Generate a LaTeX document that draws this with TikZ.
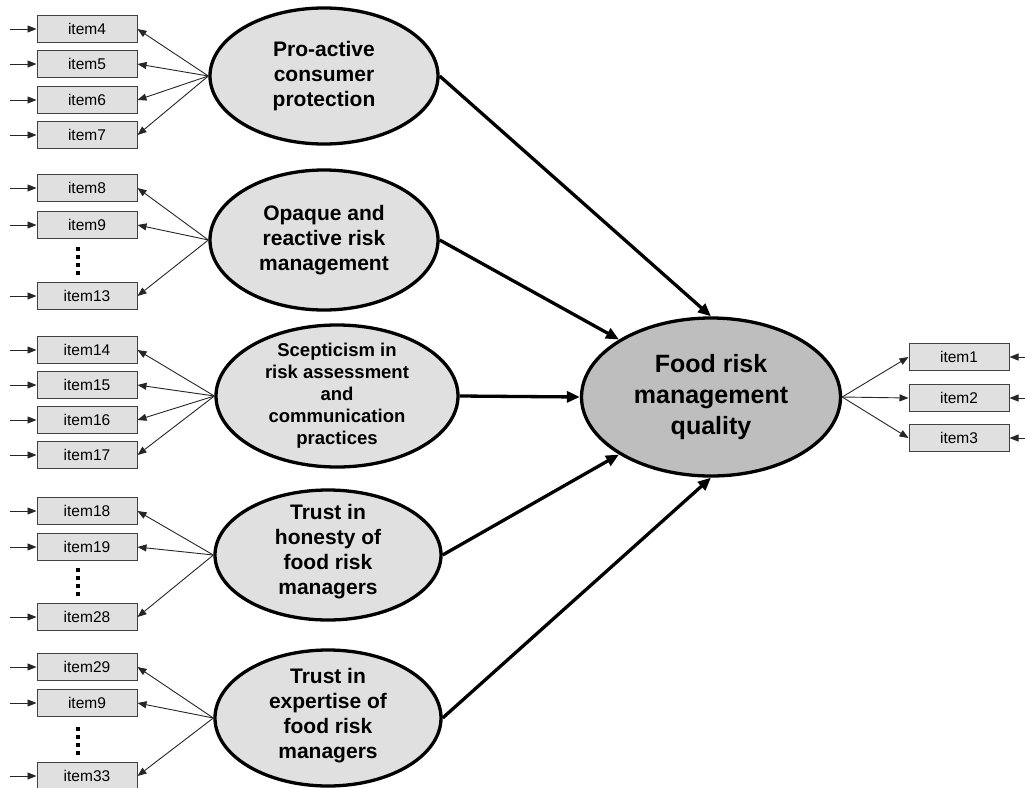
\documentclass[tikz,border=0pt]{standalone}
\usepackage{fontspec}
\setmainfont{Liberation Sans}
\usetikzlibrary{arrows.meta,shapes.geometric}
\definecolor{lightfill}{HTML}{E0E0E0}
\definecolor{darkfill}{HTML}{BEBEBE}
\definecolor{boxline}{HTML}{404040}
\tikzset{
  itembox/.style={draw=boxline, line width=1pt, fill=lightfill, minimum width=100pt, minimum height=27pt, inner sep=0pt, font=\fontsize{15.5}{17}\selectfont},
  latent/.style={ellipse, draw=black, line width=3.3pt, fill=lightfill, inner sep=0pt},
  lattext/.style={align=center, font=\fontsize{21}{25}\selectfont\bfseries, inner sep=0pt},
  thinarrow/.style={draw=black!85, line width=0.9pt, -{Triangle[length=9pt,width=7pt]}},
  thickarrow/.style={draw=black, line width=3.3pt, -{Triangle[length=13pt,width=11pt]}},
  vdots/.style={line width=3.5pt, dash pattern=on 3.5pt off 4.5pt},
}
\begin{document}
\begin{tikzpicture}[x=1pt,y=-1pt]
\useasboundingbox (0,0) rectangle (1025,787);

% latent ellipses
\node[latent, minimum width=228pt, minimum height=136pt] (e1) at (324,76) {};
\node[lattext] (t1) at (e1) {Pro-active\\consumer\\protection};
\node[latent, minimum width=228pt, minimum height=140pt] (e2) at (324,240) {};
\node[lattext] (t2) at (e2) {Opaque and\\reactive risk\\management};
\node[latent, minimum width=242pt, minimum height=142pt] (e3) at (337,396) {};
\node[lattext, font=\fontsize{18.5}{22}\selectfont\bfseries] (t3) at (e3) {Scepticism in\\risk assessment\\and\\communication\\practices};
\node[latent, minimum width=226pt, minimum height=130pt] (e4) at (328,555) {};
\node[lattext] (t4) at ([yshift=3pt]e4.center) {Trust in\\honesty of\\food risk\\managers};
\node[latent, minimum width=226pt, minimum height=136pt] (e5) at (328,718) {};
\node[lattext] (t5) at ([yshift=2pt]e5.center) {Trust in\\expertise of\\food risk\\managers};

\node[latent, fill=darkfill, minimum width=259pt, minimum height=158pt] (big) at (711,397) {};
\node[lattext, font=\fontsize{25}{31}\selectfont\bfseries] (tb) at (big) {Food risk\\management\\quality};

% item boxes (left)
\foreach \n/\y in {4/29,5/64,6/100,7/135,8/188,9/225,13/296,14/350,15/385,16/420,17/455,18/511,19/547,28/617,29/667,33/776}{
  \node[itembox] (i\n) at (87,\y) {item\n};
}
\node[itembox] (i9b) at (87,703) {item9};

% item boxes (right)
\node[itembox] (i1) at (959,357) {item1};
\node[itembox] (i2) at (959,398) {item2};
\node[itembox] (i3) at (959,438) {item3};

% error arrows (left)
\foreach \n in {4,5,6,7,8,9,13,14,15,16,17,18,19,28,29,9b,33}{
  \coordinate (s\n) at ([xshift=-27pt]i\n.west);
  \draw[thinarrow] (s\n) -- (i\n.west);
}
% error arrows (right)
\foreach \n in {1,2,3}{
  \coordinate (s\n) at ([xshift=17pt]i\n.east);
  \draw[thinarrow] (s\n) -- (i\n.east);
}

% loadings
\foreach \n in {4,5,6,7}{\draw[thinarrow] (e1.west) -- (i\n.east);}
\foreach \n in {8,9,13}{\draw[thinarrow] (e2.west) -- (i\n.east);}
\foreach \n in {14,15,16,17}{\draw[thinarrow] (e3.west) -- (i\n.east);}
\foreach \n in {18,19,28}{\draw[thinarrow] (e4.west) -- (i\n.east);}
\foreach \n in {29,9b,33}{\draw[thinarrow] (e5.west) -- (i\n.east);}
\foreach \n in {1,2,3}{\draw[thinarrow] (big.east) -- (i\n.west);}

% vertical dots
\draw[vdots] (78,247) -- (78,276);
\draw[vdots] (78,568) -- (78,597);
\draw[vdots] (78,727) -- (78,756);

% structural paths
\draw[thickarrow] (e1.east) -- (big.north);
\draw[thickarrow] (e2.east) -- (big.148);
\draw[thickarrow] (e3.east) -- (big.west);
\draw[thickarrow] (e4.east) -- (big.212);
\draw[thickarrow] (e5.east) -- (big.south);
\end{tikzpicture}
\end{document}
